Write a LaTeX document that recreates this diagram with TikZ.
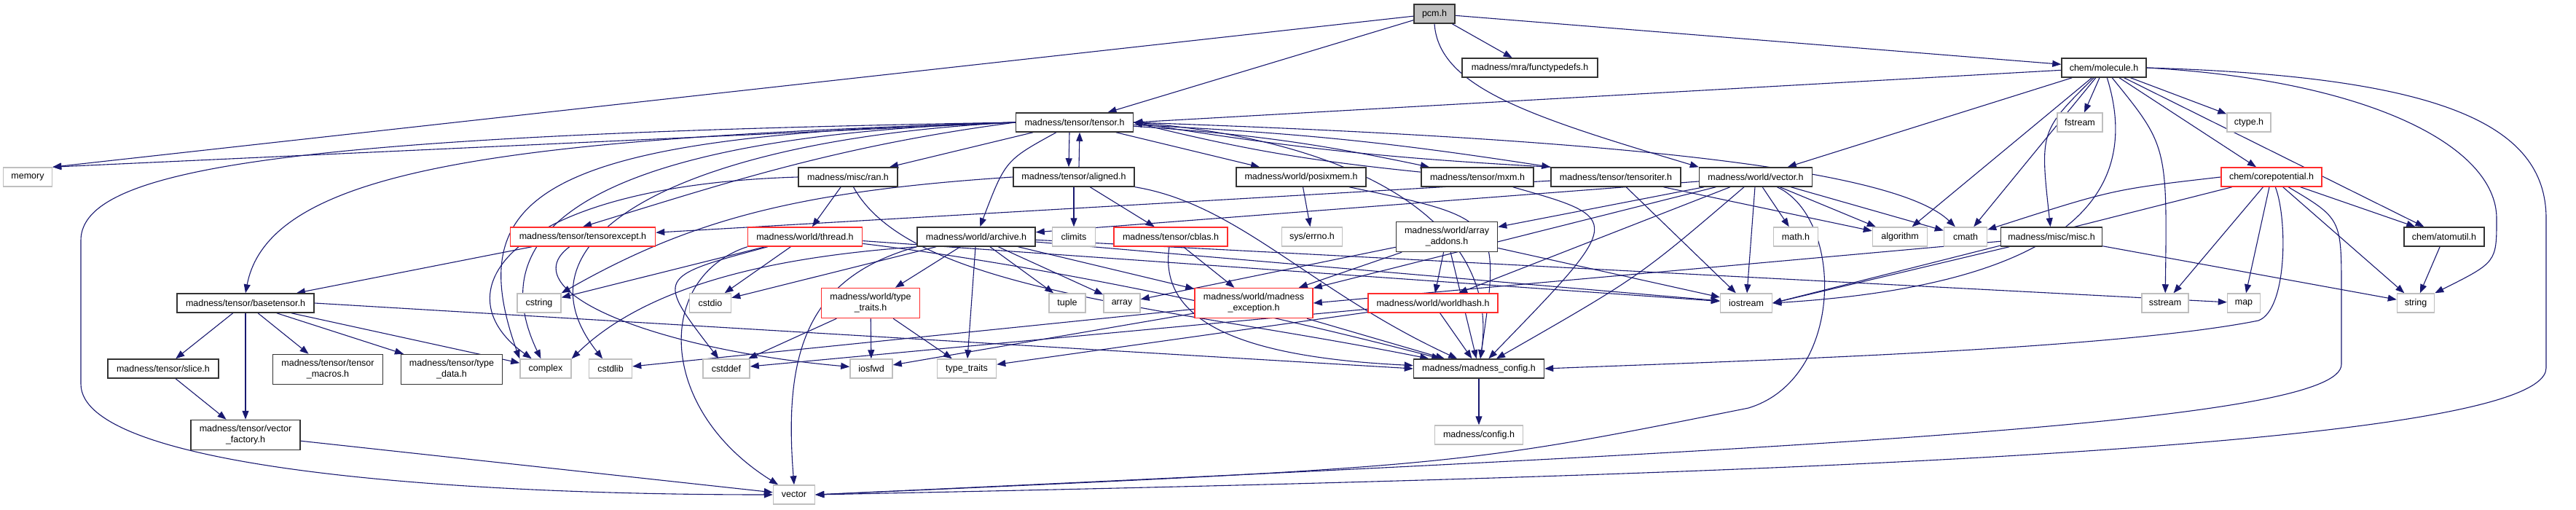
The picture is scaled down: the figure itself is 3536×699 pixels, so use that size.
\documentclass[tikz,border=0pt]{standalone}
\usepackage{fontspec}
\setmainfont{Liberation Sans}
\usetikzlibrary{arrows.meta}
\definecolor{depblue}{RGB}{25,25,112}
\definecolor{extgray}{RGB}{191,191,191}
\definecolor{truncred}{RGB}{255,45,45}
\definecolor{rootgray}{RGB}{191,191,191}
\pgfdeclarelayer{edges}
\pgfsetlayers{edges,main}

\begin{document}
\begin{tikzpicture}[
  x=1pt, y=-1pt,
  font=\fontsize{12.5}{15}\selectfont,
  box/.style={draw, line width=1.5pt, inner sep=0pt, minimum height=26, align=center, fill=white},
  doc/.style={box, draw=black!80},
  ext/.style={box, draw=extgray},
  trunc/.style={box, draw=truncred},
  root/.style={doc, fill=rootgray},
  twoline/.style={minimum height=41},
  dep/.style={draw=depblue, line width=1.1pt, -{Triangle[length=12pt,width=9pt]}},
]
  \useasboundingbox (0,0) rectangle (3536,699);

  % rows 0-2
  \node[root, minimum width=56] (pcm) at (1969,19) {pcm.h};
  \node[doc, minimum width=186] (functypedefs) at (2100,93) {madness/mra/functypedefs.h};
  \node[doc, minimum width=116] (molecule) at (2888,93) {chem/molecule.h};
  \node[doc, minimum width=161] (tensor) at (1475,168) {madness/tensor/tensor.h};
  \node[ext, minimum width=62] (fstream) at (2855,168) {fstream};
  \node[ext, minimum width=60] (ctype) at (3087,168) {ctype.h};

  % row 3
  \node[ext, minimum width=67] (memory) at (38,243) {memory};
  \node[doc, minimum width=136] (ran) at (1164,243) {madness/misc/ran.h};
  \node[doc, minimum width=166] (aligned) at (1474,243) {madness/tensor/aligned.h};
  \node[doc, minimum width=178] (posixmem) at (1786,243) {madness/world/posixmem.h};
  \node[doc, minimum width=154] (mxm) at (2028,243) {madness/tensor/mxm.h};
  \node[doc, minimum width=178] (tensoriter) at (2218,243) {madness/tensor/tensoriter.h};
  \node[doc, minimum width=155] (vecw) at (2410,243) {madness/world/vector.h};
  \node[trunc, minimum width=138] (corepot) at (3118,243) {chem/corepotential.h};

  % row 4
  \node[trunc, minimum width=199] (except) at (800,325) {madness/tensor/tensorexcept.h};
  \node[trunc, minimum width=157] (thread) at (1105,325) {madness/world/thread.h};
  \node[doc, minimum width=162] (archive) at (1340,325) {madness/world/archive.h};
  \node[ext, minimum width=59] (climits) at (1474,325) {climits};
  \node[trunc, minimum width=156] (cblas) at (1607,325) {madness/tensor/cblas.h};
  \node[ext, minimum width=83] (errno) at (1801,325) {sys/errno.h};
  \node[doc, twoline, minimum width=139] (arrayadd) at (1986,325) {madness/world/array\\\_addons.h};
  \node[ext, minimum width=61] (math) at (2465,325) {math.h};
  \node[ext, minimum width=75] (algorithm) at (2608,325) {algorithm};
  \node[ext, minimum width=59] (cmath) at (2698,325) {cmath};
  \node[doc, minimum width=139] (misc) at (2816,325) {madness/misc/misc.h};
  \node[doc, minimum width=110] (atomutil) at (3355,325) {chem/atomutil.h};

  % row 5
  \node[doc, minimum width=188] (basetensor) at (337,416) {madness/tensor/basetensor.h};
  \node[ext, minimum width=60] (cstring) at (740,416) {cstring};
  \node[ext, minimum width=57] (cstdio) at (975,416) {cstdio};
  \node[trunc, twoline, minimum width=135] (wtraits) at (1195,416) {madness/world/type\\\_traits.h};
  \node[ext, minimum width=50] (tuple) at (1465,416) {tuple};
  \node[ext, minimum width=50] (array) at (1540,416) {array};
  \node[trunc, twoline, minimum width=162] (mexcept) at (1721,416) {madness/world/madness\\\_exception.h};
  \node[trunc, minimum width=178] (worldhash) at (1967,416) {madness/world/worldhash.h};
  \node[ext, minimum width=71] (iostream) at (2397,416) {iostream};
  \node[ext, minimum width=64] (sstream) at (2972,416) {sstream};
  \node[ext, minimum width=45] (map) at (3080,416) {map};
  \node[ext, minimum width=51] (string) at (3316,416) {string};

  % rows 6-8
  \node[doc, minimum width=152] (slice) at (224,506) {madness/tensor/slice.h};
  \node[doc, twoline, minimum width=151] (macros) at (450,507) {madness/tensor/tensor\\\_macros.h};
  \node[doc, twoline, minimum width=139] (typedata) at (620,507) {madness/tensor/type\\\_data.h};
  \node[ext, minimum width=70] (complex) at (749,506) {complex};
  \node[ext, minimum width=59] (cstdlib) at (838,506) {cstdlib};
  \node[ext, minimum width=64] (cstddef) at (997,506) {cstddef};
  \node[ext, minimum width=58] (iosfwd) at (1196,506) {iosfwd};
  \node[ext, minimum width=81] (traits) at (1327,506) {type\_traits};
  \node[doc, minimum width=179] (config) at (2030,506) {madness/madness\_config.h};
  \node[doc, twoline, minimum width=150] (vfactory) at (337,597) {madness/tensor/vector\\\_factory.h};
  \node[ext, minimum width=121] (configh) at (2030,597) {madness/config.h};
  \node[ext, minimum width=57] (vector) at (1090,679) {vector};

  \begin{pgfonlayer}{edges}
  % pcm.h
  \draw[dep] (pcm) -- (memory.north east);
  \draw[dep] (pcm) -- (tensor);
  \draw[dep] (pcm) -- (functypedefs);
  \draw[dep] (pcm.south) .. controls (1975,120) and (2100,160) .. (vecw.north west);
  \draw[dep] (pcm) -- (molecule);

  % molecule.h
  \draw[dep] (molecule) -- (tensor.east);
  \draw[dep] (molecule) -- (vecw);
  \draw[dep] (molecule) -- (fstream);
  \draw[dep] (molecule) -- (ctype);
  \draw[dep] (molecule) -- (corepot);
  \draw[dep] (molecule) -- (atomutil);
  \draw[dep] (molecule) -- (algorithm);
  \draw[dep] (molecule) -- (cmath);
  \draw[dep] (molecule) .. controls (2800,180) .. (misc);
  \draw[dep] (molecule) .. controls (2940,260) and (2850,390) .. (iostream.east);
  \draw[dep] (molecule) .. controls (2975,200) .. (sstream);
  \draw[dep] (molecule.east) .. controls (3250,110) and (3427,200) .. (3427,300) .. controls (3427,360) .. (string.north east);
  \draw[dep] (molecule.east) .. controls (3350,105) and (3495,170) .. (3495,300) -- (3495,505) .. controls (3495,620) and (2300,655) .. (vector.east);

  % tensor.h
  \draw[dep] (tensor.west) -- (memory.north east);
  \draw[dep] (tensor) -- (ran);
  \draw[dep] ([xshift=-7]tensor.south) -- ([xshift=-7]aligned.north);
  \draw[dep] ([xshift=7]aligned.north) -- ([xshift=7]tensor.south);
  \draw[dep] (tensor) -- (posixmem);
  \draw[dep] (tensor) to[bend left=4] (mxm);
  \draw[dep] (mxm) to[bend left=4] (tensor.east);
  \draw[dep] (tensor) to[bend left=3] (tensoriter.north west);
  \draw[dep] (tensoriter.north west) to[bend left=3] (tensor.east);
  \draw[dep] (tensor) .. controls (1380,220) .. (archive);
  \draw[dep] (tensor.west) .. controls (1150,200) and (1000,250) .. (except.north);
  \draw[dep] (tensor.west) .. controls (700,190) and (370,230) .. (basetensor.north);
  \draw[dep] (tensor.west) .. controls (750,185) and (630,260) .. (complex.north west);
  \draw[dep] (tensor.west) .. controls (850,185) and (650,300) .. (complex);
  \draw[dep] (tensor.west) .. controls (950,190) and (690,320) .. (cstdlib);
  \draw[dep] (tensor.east) .. controls (2200,190) and (2600,230) .. (cmath);
  \draw[dep] (tensor.east) .. controls (1850,190) and (2060,300) .. (config);
  \draw[dep] (tensor.west) .. controls (400,185) and (111,230) .. (111,330) -- (111,527) .. controls (111,640) and (600,679) .. (vector.west);

  % second row sources
  \draw[dep] (ran) -- (thread);
  \draw[dep] (ran.west) .. controls (700,255) and (600,400) .. (complex);
  \draw[dep] (ran) .. controls (1250,400) and (1600,420) .. (config);
  \draw[dep] (aligned) -- (climits);
  \draw[dep] (aligned) -- (cblas);
  \draw[dep] (aligned.west) .. controls (1100,262) and (950,300) .. (cstring.north east);
  \draw[dep] (aligned) .. controls (1700,280) and (1800,400) .. (config);
  \draw[dep] (posixmem) -- (errno);
  \draw[dep] (posixmem) .. controls (2060,300) .. (config);
  \draw[dep] (mxm) .. controls (2230,300) .. (config);
  \draw[dep] (tensoriter) -- (except);
  \draw[dep] (tensoriter) -- (iostream);
  \draw[dep] (tensoriter) -- (algorithm);
  \draw[dep] (vecw) -- (archive);
  \draw[dep] (vecw) -- (arrayadd);
  \draw[dep] (vecw) -- (math);
  \draw[dep] (vecw) -- (algorithm);
  \draw[dep] (vecw) -- (cmath);
  \draw[dep] (vecw) -- (iostream);
  \draw[dep] (vecw) -- (mexcept);
  \draw[dep] (vecw) -- (worldhash);
  \draw[dep] (vecw) .. controls (2250,380) .. (config);
  \draw[dep] (vecw) .. controls (2532,300) and (2532,520) .. (2400,560) .. controls (2000,640) .. (vector.east);
  \draw[dep] (corepot.west) .. controls (2900,260) .. (cmath);
  \draw[dep] (corepot) -- (iostream.east);
  \draw[dep] (corepot) -- (sstream);
  \draw[dep] (corepot) -- (map);
  \draw[dep] (corepot) -- (string);
  \draw[dep] (corepot) -- (atomutil);
  \draw[dep] (corepot) .. controls (3140,300) and (3140,425) .. (3100,440) .. controls (2900,480) and (2400,495) .. (config.east);
  \draw[dep] (corepot) .. controls (3214,300) .. (3214,400) -- (3214,500) .. controls (3214,580) and (2500,615) .. (vector.east);

  % third row sources
  \draw[dep] (except) -- (basetensor);
  \draw[dep] (except) .. controls (700,400) and (900,480) .. (iosfwd);
  \draw[dep] (thread) -- (cstring);
  \draw[dep] (thread) -- (cstdio);
  \draw[dep] (thread) .. controls (900,380) .. (cstddef);
  \draw[dep] (thread.south west) .. controls (900,380) and (900,560) .. (vector);
  \draw[dep] (thread) -- (iostream);
  \draw[dep] (thread) .. controls (1400,360) and (1700,420) .. (config);
  \draw[dep] (archive) -- (wtraits);
  \draw[dep] (archive) -- (tuple);
  \draw[dep] (archive) -- (array);
  \draw[dep] (archive) -- (mexcept);
  \draw[dep] (archive.south west) .. controls (1100,350) and (900,380) .. (complex.north east);
  \draw[dep] (archive) -- (cstdio);
  \draw[dep] (archive.south west) .. controls (1110,380) and (1075,480) .. (vector.north);
  \draw[dep] (archive) -- (iostream);
  \draw[dep] (archive) -- (map);
  \draw[dep] (archive) -- (traits);
  \draw[dep] (cblas) -- (mexcept);
  \draw[dep] (cblas) .. controls (1590,440) and (1700,490) .. (config);
  \draw[dep] (arrayadd) -- (array);
  \draw[dep] (arrayadd) -- (mexcept);
  \draw[dep] (arrayadd) -- (worldhash);
  \draw[dep] (arrayadd) -- (config);
  \draw[dep] (arrayadd) -- (iostream);
  \draw[dep] (misc) -- (iostream.east);
  \draw[dep] (misc) -- (string);
  \draw[dep] (misc) -- (mexcept.east);
  \draw[dep] (atomutil) -- (string);

  % fourth row sources
  \draw[dep] (basetensor) -- (slice);
  \draw[dep] (basetensor) -- (vfactory);
  \draw[dep] (basetensor) -- (macros);
  \draw[dep] (basetensor) -- (typedata);
  \draw[dep] (basetensor) -- (complex);
  \draw[dep] (basetensor.east) -- (config.west);
  \draw[dep] (wtraits) -- (cstddef);
  \draw[dep] (wtraits) -- (iosfwd);
  \draw[dep] (wtraits) -- (traits);
  \draw[dep] (mexcept) -- (config);
  \draw[dep] (mexcept) -- (iosfwd);
  \draw[dep] (mexcept) -- (cstdlib);
  \draw[dep] (worldhash) -- (config);
  \draw[dep] (worldhash) -- (traits);
  \draw[dep] (worldhash) -- (cstddef);

  % bottom
  \draw[dep] (slice) -- (vfactory);
  \draw[dep] (vfactory) -- (vector);
  \draw[dep] (config) -- (configh);
  \end{pgfonlayer}
\end{tikzpicture}
\end{document}
